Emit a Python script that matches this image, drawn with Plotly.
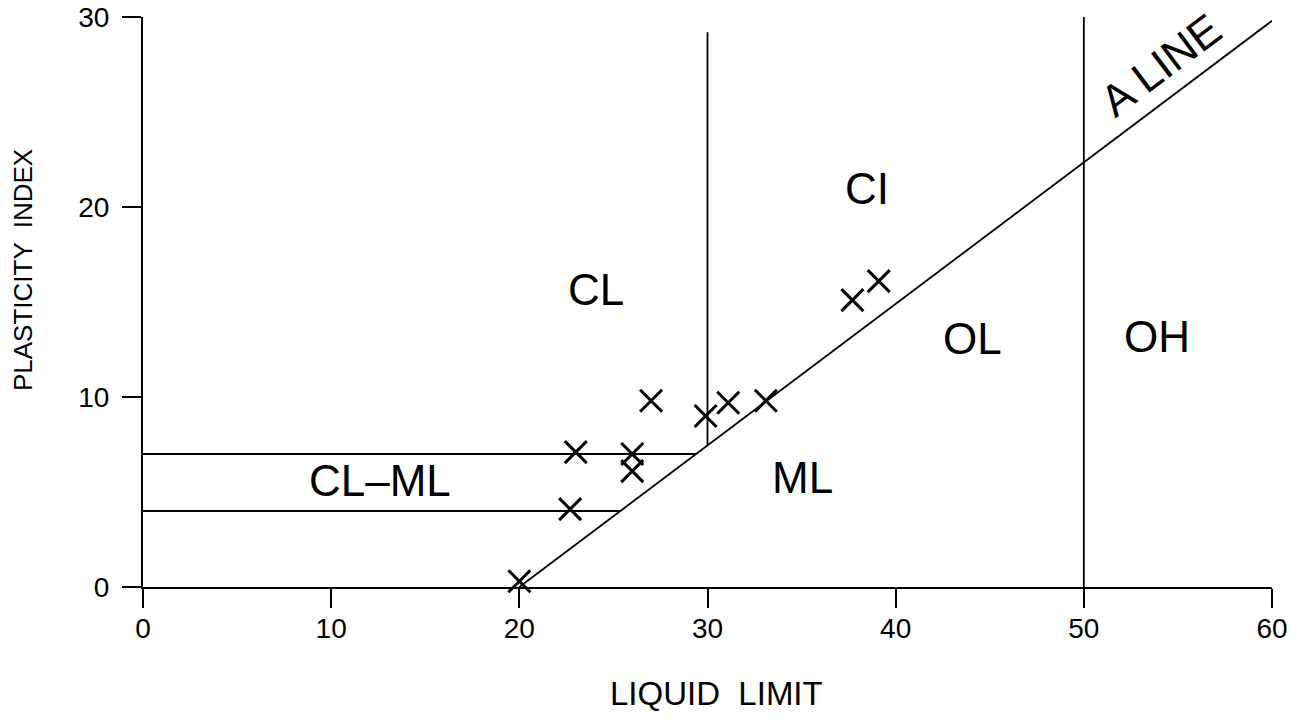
import plotly.graph_objects as go

# ---- data ----
liquid_limit = [20.0, 22.7, 23.0, 26.0, 26.0, 27.0, 29.9, 31.1, 33.1, 37.7, 39.1]
plasticity_index = [0.3, 4.1, 7.1, 7.0, 6.1, 9.8, 9.0, 9.7, 9.8, 15.1, 16.1]

a_line_x = [20, 60]
a_line_y = [0, 29.8]

v30_x = [30, 30]
v30_y = [7.45, 29.2]
v50_x = [50, 50]
v50_y = [0, 30]

h7_x = [0, 29.4]
h7_y = [7, 7]
h4_x = [0, 25.4]
h4_y = [4, 4]

zone_labels = ["CL", "CI", "CL\u2013ML", "ML", "OL", "OH"]
zone_x = [24.07, 38.5, 12.58, 35.06, 44.07, 53.9]
zone_y = [15.68, 21.0, 5.62, 5.75, 13.1, 13.2]

a_label = "A LINE"
a_label_x = 54.1
a_label_y = 27.5

x_ticks = [0, 10, 20, 30, 40, 50, 60]
y_ticks = [0, 10, 20, 30]

FONT = "Liberation Sans"
LINE = dict(color="black", width=1.8)

fig = go.Figure()
for xs, ys in [(a_line_x, a_line_y), (v30_x, v30_y), (v50_x, v50_y), (h7_x, h7_y), (h4_x, h4_y)]:
    fig.add_trace(go.Scatter(x=xs, y=ys, mode="lines", line=LINE, hoverinfo="skip", showlegend=False))

fig.add_trace(go.Scatter(
    x=liquid_limit, y=plasticity_index, mode="markers",
    marker=dict(symbol="x-thin", size=22, line=dict(color="black", width=3)),
    showlegend=False, cliponaxis=False,
))

annotations = []
for t, x, y in zip(zone_labels, zone_x, zone_y):
    annotations.append(dict(x=x, y=y, xref="x", yref="y", text=t, showarrow=False,
                            xanchor="center", yanchor="middle",
                            font=dict(family=FONT, size=44, color="black")))
annotations.append(dict(x=a_label_x, y=a_label_y, xref="x", yref="y", text=a_label, showarrow=False,
                        xanchor="center", yanchor="middle",
                        textangle=-37, font=dict(family=FONT, size=44, color="black")))
annotations.append(dict(x=0.5084, y=-0.186, xref="paper", yref="paper", text="LIQUID  LIMIT",
                        showarrow=False, xanchor="center", yanchor="middle",
                        font=dict(family=FONT, size=33, color="black")))
annotations.append(dict(x=-0.1063, y=0.556, xref="paper", yref="paper", text="PLASTICITY  INDEX",
                        showarrow=False, textangle=-90, xanchor="center", yanchor="middle",
                        font=dict(family=FONT, size=26, color="black")))

fig.update_layout(
    width=1307, height=719,
    margin=dict(l=143, r=35, t=17, b=132, autoexpand=False),
    paper_bgcolor="white", plot_bgcolor="white",
    annotations=annotations,
    xaxis=dict(range=[0, 60], tickvals=x_ticks, showgrid=False, zeroline=False, automargin=False,
               showline=True, linecolor="black", linewidth=2,
               ticks="outside", ticklen=19, tickwidth=2, tickcolor="black",
               ticklabelstandoff=-4, ticklabeloverflow="allow",
               tickfont=dict(family=FONT, size=28, color="black")),
    yaxis=dict(range=[0, 30], tickvals=y_ticks, showgrid=False, zeroline=False, automargin=False,
               showline=True, linecolor="black", linewidth=2,
               ticks="outside", ticklen=19, tickwidth=2, tickcolor="black",
               ticklabelstandoff=7, ticklabeloverflow="allow",
               tickfont=dict(family=FONT, size=28, color="black")),
)

fig.write_html("out.html", config={"displayModeBar": False},
               post_script="document.body.style.margin='0';")
